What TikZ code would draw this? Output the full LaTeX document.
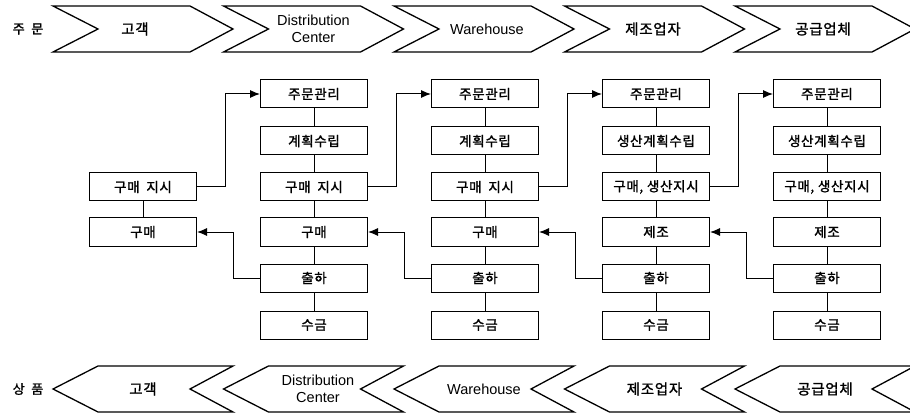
\documentclass[tikz,border=0pt]{standalone}
\usepackage{fontspec}
\setmainfont{Noto Sans CJK KR}[FakeBold=1.5,LetterSpace=5]
\newfontfamily\arial{Liberation Sans}
\usetikzlibrary{arrows.meta}

\tikzset{
  box/.style={draw,line width=1pt,minimum width=107pt,minimum height=28pt,inner sep=0pt,font=\fontsize{13.5}{15}\selectfont},
  flow/.style={line width=1pt,-{Latex[length=10pt,width=8pt]}},
  chev/.style={line width=1.3pt,line join=miter},
  chevtext/.style={align=center,font=\fontsize{14.5}{17}\selectfont},
  sidetext/.style={font=\fontsize{13}{15}\selectfont}
}

\begin{document}
\begin{tikzpicture}[x=1pt,y=-1pt]
  \useasboundingbox (0,0) rectangle (910,414);
  %\draw[help lines] (0,0) grid[step=50] (910,414);

  % order flow (top) and goods flow (bottom)
  \node[sidetext] (jumun) at (28,29) {주\enspace 문};
  \node[sidetext] (sangpum) at (28,389) {상\enspace 품};
  \foreach \i in {0,...,4} {
    \pgfmathsetmacro{\l}{53+170.5*\i}
    \draw[chev] (\l,6) -- ({\l+137},6) -- ({\l+180},29) -- ({\l+137},52) -- (\l,52) -- ({\l+45},29) -- cycle;
    \draw[chev] (\l,389) -- ({\l+45},366) -- ({\l+180},366) -- ({\l+137},389) -- ({\l+180},412) -- ({\l+45},412) -- cycle;
  }
  \node[chevtext] (top0) at (135,29) {고객};
  \node[chevtext] (top1) at (313.5,29) {\arial Distribution\\\arial Center};
  \node[chevtext] (top2) at (487,29) {\arial Warehouse};
  \node[chevtext] (top3) at (653,29) {제조업자};
  \node[chevtext] (top4) at (823,29) {공급업체};
  \node[chevtext] (bot0) at (143,389) {고객};
  \node[chevtext] (bot1) at (318,389) {\arial Distribution\\\arial Center};
  \node[chevtext] (bot2) at (484,389) {\arial Warehouse};
  \node[chevtext] (bot3) at (654.5,389) {제조업자};
  \node[chevtext] (bot4) at (825,389) {공급업체};

  % customer
  \node[box] (inst0) at (143,187) {구매\enspace 지시};
  \node[box] (buy0) at (143,232) {구매};
  % distribution center
  \node[box] (ord1) at (314,94) {주문관리};
  \node[box] (plan1) at (314,141) {계획수립};
  \node[box] (inst1) at (314,187) {구매\enspace 지시};
  \node[box] (buy1) at (314,232) {구매};
  \node[box] (ship1) at (314,278) {출하};
  \node[box] (pay1) at (314,325) {수금};
  % warehouse
  \node[box] (ord2) at (485,94) {주문관리};
  \node[box] (plan2) at (485,141) {계획수립};
  \node[box] (inst2) at (485,187) {구매\enspace 지시};
  \node[box] (buy2) at (485,232) {구매};
  \node[box] (ship2) at (485,278) {출하};
  \node[box] (pay2) at (485,325) {수금};
  % manufacturer
  \node[box] (ord3) at (656,94) {주문관리};
  \node[box] (plan3) at (656,141) {생산계획수립};
  \node[box] (inst3) at (656,187) {구매, 생산지시};
  \node[box] (buy3) at (656,232) {제조};
  \node[box] (ship3) at (656,278) {출하};
  \node[box] (pay3) at (656,325) {수금};
  % supplier
  \node[box] (ord4) at (827,94) {주문관리};
  \node[box] (plan4) at (827,141) {생산계획수립};
  \node[box] (inst4) at (827,187) {구매, 생산지시};
  \node[box] (buy4) at (827,232) {제조};
  \node[box] (ship4) at (827,278) {출하};
  \node[box] (pay4) at (827,325) {수금};

  \draw[line width=1pt] (inst0) -- (buy0);
  \foreach \i in {1,...,4} {
    \draw[line width=1pt] (ord\i) -- (plan\i);
    \draw[line width=1pt] (plan\i) -- (inst\i);
    \draw[line width=1pt] (inst\i) -- (buy\i);
    \draw[line width=1pt] (buy\i) -- (ship\i);
    \draw[line width=1pt] (ship\i) -- (pay\i);
  }

  \foreach \i/\j in {0/1,1/2,2/3,3/4}
    \draw[flow] (inst\i.east) -- ++(28,0) |- (ord\j.west);
  \foreach \i/\j in {1/0,2/1,3/2,4/3}
    \draw[flow] (ship\i.west) -- ++(-27,0) |- (buy\j.east);
\end{tikzpicture}
\end{document}
